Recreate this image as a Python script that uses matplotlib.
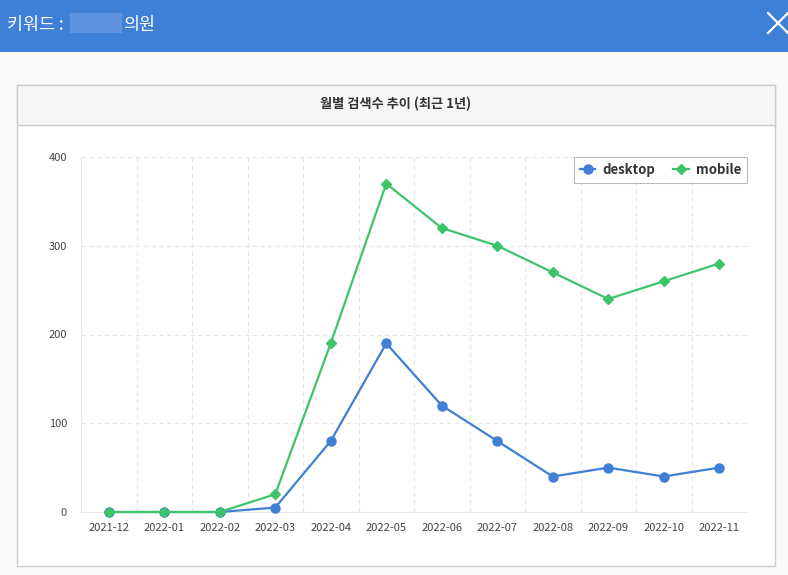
import matplotlib
matplotlib.use('Agg')
import matplotlib.pyplot as plt
from matplotlib.patches import Rectangle
from matplotlib.lines import Line2D
import numpy as np

plt.rcParams['font.family'] = ['Noto Sans CJK KR', 'DejaVu Sans']

months = ['2021-12', '2022-01', '2022-02', '2022-03', '2022-04', '2022-05',
          '2022-06', '2022-07', '2022-08', '2022-09', '2022-10', '2022-11']
desktop = [0, 0, 0, 5, 80, 190, 120, 80, 40, 50, 40, 50]
mobile = [0, 0, 0, 20, 190, 370, 320, 300, 270, 240, 260, 280]
yticks = [0, 100, 200, 300, 400]

W, H = 788, 575
fig = plt.figure(figsize=(W / 100, H / 100), dpi=100)
fig.patch.set_facecolor('#fafafa')

def px(x, y, w, h):
    # pixel box (top-left origin) -> figure fraction
    return (x / W, 1 - (y + h) / H, w / W, h / H)

# header bar
x0, y0, w0, h0 = px(0, 0, W, 52)
fig.patches.append(Rectangle((x0, y0), w0, h0, transform=fig.transFigure,
                             facecolor='#3f80d7', edgecolor='none', zorder=-2))
bx, by, bw, bh = px(70, 13, 52, 20)
fig.patches.append(Rectangle((bx, by), bw, bh, transform=fig.transFigure,
                             facecolor='#5e94df', edgecolor='none', zorder=-1))
fig.text(7 / W, 1 - 25 / H, '키워드 :', color='white', fontsize=12.5, va='center')
fig.text(123 / W, 1 - 25 / H, '의원', color='white', fontsize=12.5, va='center')
fig.add_artist(Line2D([768 / W, 788 / W], [1 - 13 / H, 1 - 33 / H], color='white', lw=1.6))
fig.add_artist(Line2D([768 / W, 788 / W], [1 - 33 / H, 1 - 13 / H], color='white', lw=1.6))

# card
cx, cy, cw, ch = px(17, 85, 758, 481)
fig.patches.append(Rectangle((cx, cy), cw, ch, transform=fig.transFigure,
                             facecolor='white', edgecolor='#cccccc', lw=1, zorder=-2))
tx, ty, tw, th = px(17, 85, 758, 40)
fig.patches.append(Rectangle((tx, ty), tw, th, transform=fig.transFigure,
                             facecolor='#f7f7f7', edgecolor='#cccccc', lw=1, zorder=-1))
fig.text(396 / W, 1 - 104 / H, '월별 검색수 추이 (최근 1년)', color='#333333',
         fontsize=9.5, fontweight='bold', ha='center', va='center')

ax = fig.add_axes(px(81, 157, 666, 355))
ax.set_zorder(5)
ax.set_facecolor('white')
x = np.arange(len(months))
ax.plot(x, desktop, color='#3f7fd6', marker='o', ms=6.5, lw=1.6, label='desktop', zorder=3,
        clip_on=False)
ax.plot(x, mobile, color='#3dc46b', marker='D', ms=5, lw=1.6, label='mobile', zorder=4,
        clip_on=False)

ax.set_xlim(-0.5, len(months) - 0.5)
ax.set_ylim(0, 400)
ax.set_xticks(x)
ax.set_xticklabels(months)
ax.set_yticks(yticks)
ax.set_xticks(np.arange(-0.5, len(months), 1), minor=True)
ax.tick_params(axis='both', which='both', length=0, labelsize=8, colors='#444444')
ax.tick_params(axis='x', pad=8)
ax.tick_params(axis='y', pad=10)
ax.grid(True, axis='y', color='#e6e6e6', ls=(0, (4, 3)), lw=0.8)
ax.grid(True, axis='x', which='minor', color='#e6e6e6', ls=(0, (4, 3)), lw=0.8)
ax.grid(False, axis='x', which='major')
for s in ['top', 'right']:
    ax.spines[s].set_visible(False)
ax.spines['left'].set_color('#e6e6e6')
ax.spines['bottom'].set_color('#e6e6e6')

leg = ax.legend(loc='upper right', ncol=2, frameon=True, fancybox=False,
                prop={'weight': 'bold', 'size': 9.5}, borderaxespad=0.0,
                handlelength=1.2, columnspacing=1.4, handletextpad=0.5,
                borderpad=0.45)
leg.get_frame().set_edgecolor('#aaaaaa')
leg.get_frame().set_linewidth(0.8)
for t in leg.get_texts():
    t.set_color('#333333')

fig.savefig('out.png', dpi=100, facecolor=fig.get_facecolor())
